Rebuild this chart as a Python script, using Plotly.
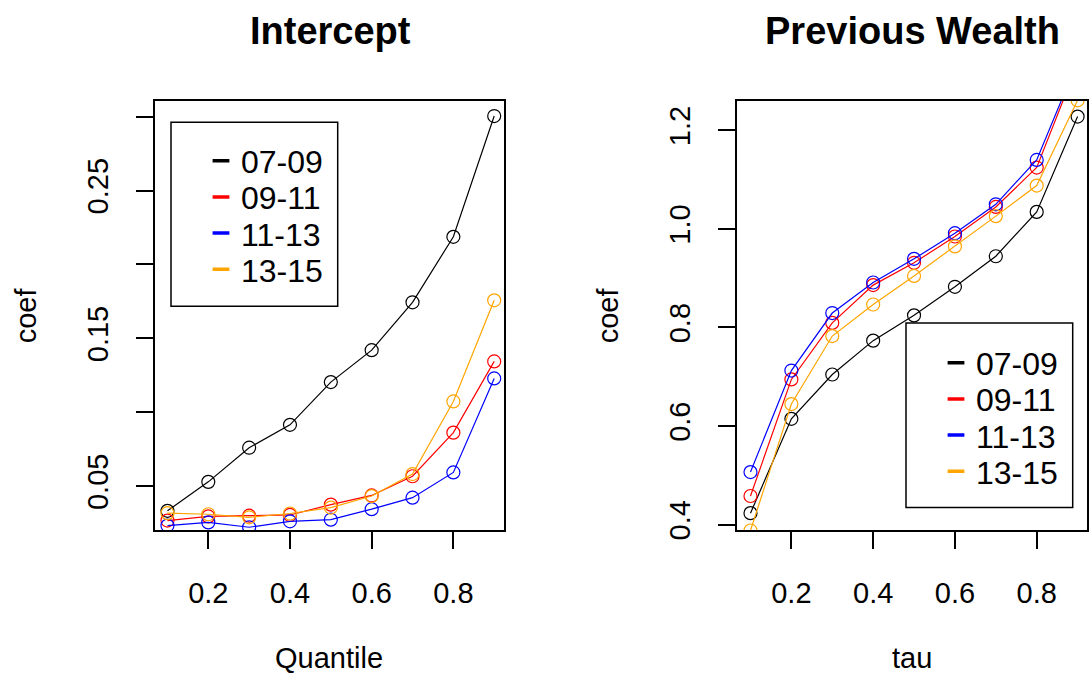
import plotly.graph_objects as go

# ---- data ----
tau = [0.1, 0.2, 0.3, 0.4, 0.5, 0.6, 0.7, 0.8, 0.9]
series_names = ["07-09", "09-11", "11-13", "13-15"]
series_colors = ["#000000", "#FF0000", "#0000FF", "#FFA500"]

intercept_0709 = [0.0333, 0.0529, 0.0760, 0.0915, 0.1204, 0.1420, 0.1744, 0.2187, 0.3004]
intercept_0911 = [0.0267, 0.0295, 0.0300, 0.0305, 0.0375, 0.0437, 0.0567, 0.0862, 0.1344]
intercept_1113 = [0.0233, 0.0255, 0.0222, 0.0262, 0.0273, 0.0344, 0.0422, 0.0593, 0.1229]
intercept_1315 = [0.0317, 0.0310, 0.0289, 0.0315, 0.0355, 0.0433, 0.0582, 0.1073, 0.1757]

wealth_0709 = [0.4232, 0.6146, 0.7046, 0.7733, 0.8246, 0.8826, 0.9446, 1.0346, 1.2280]
wealth_0911 = [0.4580, 0.6946, 0.8093, 0.8860, 0.9313, 0.9846, 1.0446, 1.1246, 1.3350]
wealth_1113 = [0.5066, 0.7126, 0.8293, 0.8913, 0.9393, 0.9913, 1.0500, 1.1400, 1.3400]
wealth_1315 = [0.3880, 0.6446, 0.7826, 0.8466, 0.9046, 0.9646, 1.0260, 1.0880, 1.2610]

x_ticks = [0.2, 0.4, 0.6, 0.8]
x_labels = ["0.2", "0.4", "0.6", "0.8"]
left_y_ticks = [0.05, 0.10, 0.15, 0.20, 0.25, 0.30]
left_y_labels = ["0.05", "", "0.15", "", "0.25", ""]
right_y_ticks = [0.4, 0.6, 0.8, 1.0, 1.2]
right_y_labels = ["0.4", "0.6", "0.8", "1.0", "1.2"]

intercept_series = [intercept_0709, intercept_0911, intercept_1113, intercept_1315]
wealth_series = [wealth_0709, wealth_0911, wealth_1113, wealth_1315]

W, H = 1089, 689
FONT = "Liberation Sans, Arial, sans-serif"


def px_x(p):
    return p / W


def px_y(p):
    return 1 - p / H


fig = go.Figure()

# legend rows (pixel positions of each entry), one Plotly legend per entry
left_leg_x, left_leg_rows = 201, [163.3, 200.0, 236.7, 273.3]
right_leg_x, right_leg_rows = 936, [368.3, 405.0, 441.7, 478.3]

legend_layouts = {}
leg_idx = 1


def add_panel(series_list, xa, ya, leg_x, leg_rows):
    global leg_idx
    for name, color, ys, row in zip(series_names, series_colors, series_list, leg_rows):
        fig.add_trace(go.Scatter(
            x=tau, y=ys, mode="lines+markers", xaxis=xa, yaxis=ya,
            line=dict(color=color, width=1.2),
            marker=dict(symbol="circle-open", size=13, color=color, line=dict(width=1.2)),
            showlegend=False, name=name))
        key = "legend" if leg_idx == 1 else f"legend{leg_idx}"
        fig.add_trace(go.Scatter(
            x=[None], y=[None], mode="markers", xaxis=xa, yaxis=ya,
            marker=dict(symbol="line-ew", size=12, color=color,
                        line=dict(color=color, width=3.5)),
            name=name, legend=key, showlegend=True))
        legend_layouts[key] = dict(
            x=px_x(leg_x), y=px_y(row), xanchor="left", yanchor="middle",
            bgcolor="rgba(0,0,0,0)", borderwidth=0,
            font=dict(family=FONT, size=32, color="black"),
            itemwidth=30, tracegroupgap=0)
        leg_idx += 1


add_panel(intercept_series, "x", "y", left_leg_x, left_leg_rows)
add_panel(wealth_series, "x2", "y2", right_leg_x, right_leg_rows)

axis_common = dict(
    showgrid=False, zeroline=False, showline=True, mirror=True,
    linecolor="black", linewidth=1.5, ticks="outside", ticklen=17,
    tickwidth=1.5, tickcolor="black",
    tickfont=dict(family=FONT, size=29, color="black"),
)

fig.update_layout(
    width=W, height=H,
    margin=dict(l=0, r=0, t=0, b=0),
    paper_bgcolor="white", plot_bgcolor="white",
    font=dict(family=FONT, color="black"),
    xaxis=dict(domain=[px_x(155), px_x(504)], range=[0.0695, 0.924],
               tickvals=x_ticks, ticktext=x_labels,
               anchor="y", ticklabelstandoff=19, **axis_common),
    yaxis=dict(domain=[px_y(538), px_y(102)], range=[0.0202, 0.3109],
               tickvals=left_y_ticks, ticktext=left_y_labels, tickangle=-90,
               anchor="x", ticklabelstandoff=17, **axis_common),
    xaxis2=dict(domain=[px_x(737), px_x(1087)], range=[0.067, 0.923],
                tickvals=x_ticks, ticktext=x_labels,
                anchor="y2", ticklabelstandoff=19, **axis_common),
    yaxis2=dict(domain=[px_y(538), px_y(102)], range=[0.3886, 1.2606],
                tickvals=right_y_ticks, ticktext=right_y_labels, tickangle=-90,
                anchor="x2", ticklabelstandoff=17, **axis_common),
    shapes=[
        dict(type="rect", xref="paper", yref="paper",
             x0=px_x(171), x1=px_x(337.7), y0=px_y(310.7), y1=px_y(124),
             line=dict(color="black", width=1.5), fillcolor="rgba(0,0,0,0)", layer="above"),
        dict(type="rect", xref="paper", yref="paper",
             x0=px_x(906), x1=px_x(1072.7), y0=px_y(515), y1=px_y(327.7),
             line=dict(color="black", width=1.5), fillcolor="white", layer="above"),
    ],
    annotations=[
        dict(text="<b>Intercept</b>", x=px_x(330), y=px_y(31), xref="paper", yref="paper",
             showarrow=False, xanchor="center", yanchor="middle",
             font=dict(family=FONT, size=38, color="black")),
        dict(text="<b>Previous Wealth</b>", x=px_x(912), y=px_y(31), xref="paper", yref="paper",
             showarrow=False, xanchor="center", yanchor="middle",
             font=dict(family=FONT, size=38, color="black")),
        dict(text="Quantile", x=px_x(329), y=px_y(668), xref="paper", yref="paper",
             showarrow=False, xanchor="center", yanchor="middle",
             font=dict(family=FONT, size=29, color="black")),
        dict(text="tau", x=px_x(912), y=px_y(668), xref="paper", yref="paper",
             showarrow=False, xanchor="center", yanchor="middle",
             font=dict(family=FONT, size=29, color="black")),
        dict(text="coef", x=px_x(26), y=px_y(320), xref="paper", yref="paper",
             showarrow=False, xanchor="center", yanchor="middle", textangle=-90,
             font=dict(family=FONT, size=29, color="black")),
        dict(text="coef", x=px_x(608), y=px_y(320), xref="paper", yref="paper",
             showarrow=False, xanchor="center", yanchor="middle", textangle=-90,
             font=dict(family=FONT, size=29, color="black")),
    ],
    **legend_layouts,
)

fig.write_html("out.html")
